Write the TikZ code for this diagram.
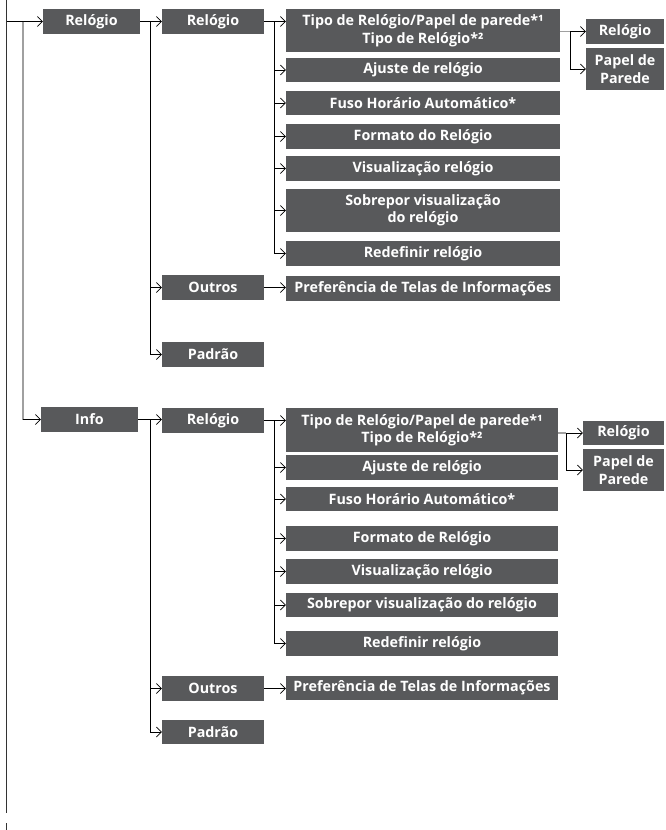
\documentclass[tikz,border=0pt]{standalone}
\usepackage{fontspec}
\setmainfont{Open Sans}
\usetikzlibrary{arrows.meta,calc}
\definecolor{boxgray}{HTML}{58595B}
\definecolor{linegray}{HTML}{A0A0A0}
\tikzset{
  menubox/.style={fill=boxgray,text=white,inner sep=0pt,align=center,
    font=\fontsize{14.3}{17.5}\selectfont\bfseries},
  arr/.style={draw=black,line width=0.9pt,-{Straight Barb[length=5pt,width=10pt,line width=0.7pt]}},
  plain/.style={draw=black,line width=0.9pt},
  grayline/.style={draw=linegray,line width=1.3pt},
  mainline/.style={draw=black!80,line width=1.2pt}
}
% box: name, x1, x2, y1, y2, text
\newcommand{\menunode}[6]{%
  \node[menubox,minimum width={(#3-#2)*1pt},minimum height={(#5-#4)*1pt},anchor=center]
    (#1) at ({(#2+#3)/2},{-(#4+#5)/2}) {#6};}
\begin{document}
\begin{tikzpicture}[x=1pt,y=1pt]
\useasboundingbox (0,0) rectangle (666,-830);
% section 1
\menunode{A1}{43}{140}{9}{34}{Relógio}
\menunode{B1}{162}{264}{9}{34}{Relógio}
\menunode{C1}{286}{560}{9}{52}{Tipo de Relógio/Papel de parede*¹\\Tipo de Relógio*²}
\menunode{C2}{286}{560}{58}{82}{Ajuste de relógio}
\menunode{C3}{286}{560}{91}{115}{Fuso Horário Automático*}
\menunode{C4}{286}{560}{124}{149}{Formato do Relógio}
\menunode{C5}{286}{560}{156}{181}{Visualização relógio}
\menunode{C6}{286}{560}{189}{232}{Sobrepor visualização\\do relógio}
\menunode{C7}{286}{560}{241}{266}{Redefinir relógio}
\menunode{B2}{162}{264}{275}{300}{Outros}
\menunode{C8}{286}{560}{276}{301}{Preferência de Telas de Informações}
\menunode{B3}{162}{264}{342}{367}{Padrão}
\menunode{D1}{586}{664}{19}{44}{Relógio}
\menunode{D2}{586}{664}{48}{90}{Papel de\\Parede}
% section 2
\menunode{A2}{41}{138}{407}{432}{Info}
\menunode{E1}{162}{264}{408}{433}{Relógio}
\menunode{F1}{286}{558}{408}{452}{Tipo de Relógio/Papel de parede*¹\\Tipo de Relógio*²}
\menunode{F2}{286}{558}{455}{480}{Ajuste de relógio}
\menunode{F3}{286}{558}{487}{511}{Fuso Horário Automático*}
\menunode{F4}{286}{558}{526}{551}{Formato de Relógio}
\menunode{F5}{286}{558}{559}{584}{Visualização relógio}
\menunode{F6}{286}{558}{593}{617}{Sobrepor visualização do relógio}
\menunode{F7}{286}{558}{631}{656}{Redefinir relógio}
\menunode{E2}{162}{264}{676}{701}{Outros}
\menunode{F8}{286}{558}{676}{700}{Preferência de Telas de Informações}
\menunode{E3}{162}{264}{720}{744}{Padrão}
\menunode{G1}{583}{664}{421}{445}{Relógio}
\menunode{G2}{583}{664}{449}{491}{Papel de\\Parede}
% left main line
\coordinate (top) at (6.5,0);
\coordinate (bot) at (6.5,-813);
\coordinate (tickA) at (6.5,-823);
\coordinate (tickB) at (6.5,-830);
\draw[mainline] (top) -- (bot);
\draw[mainline] (tickA) -- (tickB);
\coordinate (s1) at (6.5,-21.5);
\coordinate (g1) at (23,-21.5);
\coordinate (g2) at (23,-419.5);
\draw[arr] (s1) -- (A1.west);
\draw[grayline] (g1) -- (g2);
\draw[arr] (g2) -- (A2.west);
% A1 -> B
\draw[arr] (A1.east) -- (B1.west);
\draw[arr] ($(A1.east)+(10,0)$) |- (B2.west);
\draw[arr] ($(A1.east)+(10,0)$) |- (B3.west);
% B1 -> C
\draw[arr] (B1.east) -- (C1.west|-B1.east);
\foreach \n in {C2,C3,C4,C5,C6,C7} \draw[arr] ($(B1.east)+(10,0)$) |- (\n.west);
\draw[arr] (B2.east) -- (C8.west|-B2.east);
% C1 -> D
\coordinate (c1a) at (C1.east|-D1.west);
\coordinate (c1b) at ($(c1a)+(10,0)$);
\draw[grayline] (c1a) -- (c1b);
\draw[arr] (c1b) -- (D1.west);
\draw[arr] (c1b) |- (D2.west);
% A2 -> E
\draw[arr] (A2.east) -- (E1.west|-A2.east);
\draw[arr] ($(A2.east)+(12,0)$) |- (E2.west);
\draw[arr] ($(A2.east)+(12,0)$) |- (E3.west);
% E1 -> F
\draw[arr] (E1.east) -- (F1.west|-E1.east);
\foreach \n in {F2,F3,F4,F5,F6,F7} \draw[arr] ($(E1.east)+(10,0)$) |- (\n.west);
\draw[arr] (E2.east) -- (F8.west|-E2.east);
% F1 -> G
\coordinate (f1a) at (F1.east|-G1.west);
\coordinate (f1b) at ($(f1a)+(8,0)$);
\draw[grayline] (f1a) -- (f1b);
\draw[arr] (f1b) -- (G1.west);
\draw[arr] (f1b) |- (G2.west);
\end{tikzpicture}
\end{document}
